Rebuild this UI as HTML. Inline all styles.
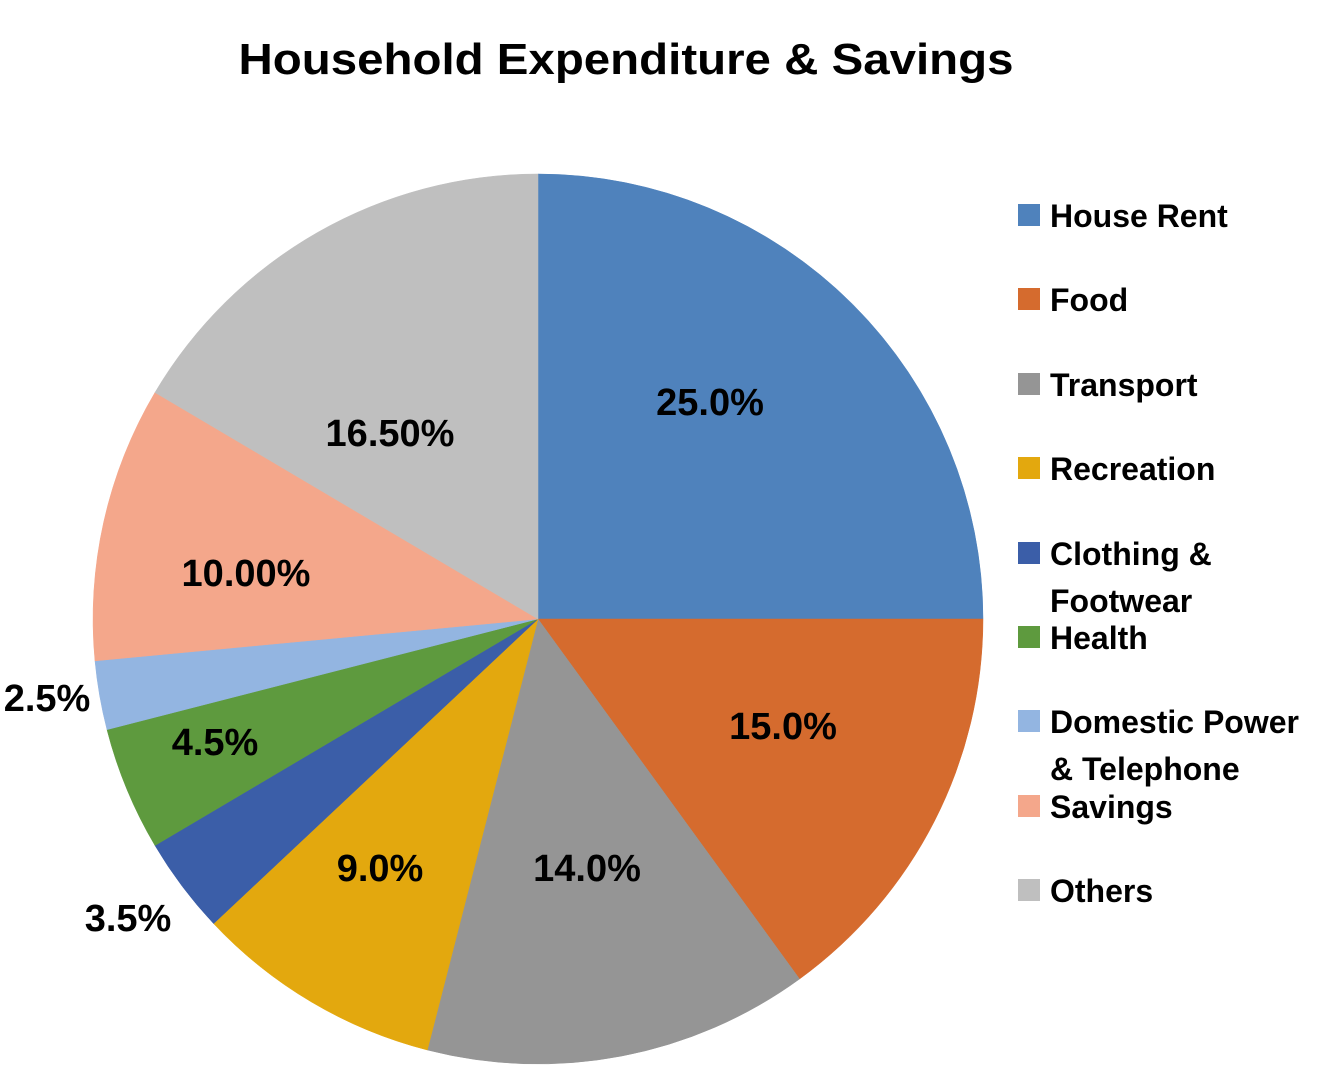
<!DOCTYPE html>
<html><head><meta charset="utf-8"><style>
body{margin:0;background:#fff;}
svg text{font-family:"Liberation Sans",sans-serif;font-weight:bold;fill:#000;}
</style></head><body>
<svg width="1334" height="1078" viewBox="0 0 1334 1078">
<text x="626" y="74" text-anchor="middle" font-size="44" textLength="775" lengthAdjust="spacingAndGlyphs">Household Expenditure &amp; Savings</text>
<g id="slices"></g>
<g id="labels"></g>
<g id="legend"></g>
</svg>
<script>
const categories=["House Rent","Food","Transport","Recreation","Clothing & Footwear","Health","Domestic Power & Telephone","Savings","Others"];
const values=[25.0,15.0,14.0,9.0,3.5,4.5,2.5,10.0,16.5];
const valueLabels=["25.0%","15.0%","14.0%","9.0%","3.5%","4.5%","2.5%","10.00%","16.50%"];
const colors=["#4F82BC","#D56B2E","#959595","#E3A80E","#3B5EA8","#5E9A3E","#93B5E1","#F4A78B","#BFBFBF"];
const legendLines=[["House Rent"],["Food"],["Transport"],["Recreation"],["Clothing &","Footwear"],["Health"],["Domestic Power","& Telephone"],["Savings"],["Others"]];
const legendY=[215,299,384,468,553,637,721,806,890];
// label placement (layout only)
const labelPos=[[710,402],[783,726],[587,868],[380,868],[128,918],[215,742],[47,698],[246,573],[390,433]];
const cx=538,cy=619,r=445,NS="http://www.w3.org/2000/svg";
const total=values.reduce((a,b)=>a+b,0);
function pt(a,rr){return [cx+rr*Math.sin(a),cy-rr*Math.cos(a)];}
let a0=0;
const sg=document.getElementById('slices'),lg=document.getElementById('labels'),gg=document.getElementById('legend');
values.forEach((v,i)=>{
 const a1=a0+v/total*2*Math.PI;
 const p0=pt(a0,r),p1=pt(a1,r);
 const p=document.createElementNS(NS,'path');
 p.setAttribute('d',`M${cx},${cy}L${p0[0]},${p0[1]}A${r},${r} 0 ${a1-a0>Math.PI?1:0} 1 ${p1[0]},${p1[1]}Z`);
 p.setAttribute('fill',colors[i]);p.setAttribute('stroke',colors[i]);p.setAttribute('stroke-width','0.5');
 
 
 sg.appendChild(p);
 const lp=labelPos[i];
 const t=document.createElementNS(NS,'text');
 t.setAttribute('x',lp[0]);t.setAttribute('y',lp[1]+13);
 t.setAttribute('text-anchor','middle');t.setAttribute('font-size','38');
 t.textContent=valueLabels[i];
 
 
 lg.appendChild(t);
 a0=a1;
});
legendLines.forEach((lines,i)=>{
 const y=legendY[i];
 const s=document.createElementNS(NS,'rect');
 s.setAttribute('x',1018);s.setAttribute('y',y-11);s.setAttribute('width',22);s.setAttribute('height',22);s.setAttribute('fill',colors[i]);
 
 
 gg.appendChild(s);
 lines.forEach((ln,j)=>{
  const t=document.createElementNS(NS,'text');
  t.setAttribute('x',1050);t.setAttribute('y',y+12+j*47);t.setAttribute('font-size','32');
  t.textContent=ln;
  
  
  gg.appendChild(t);
 });
});
</script>
</body></html>
